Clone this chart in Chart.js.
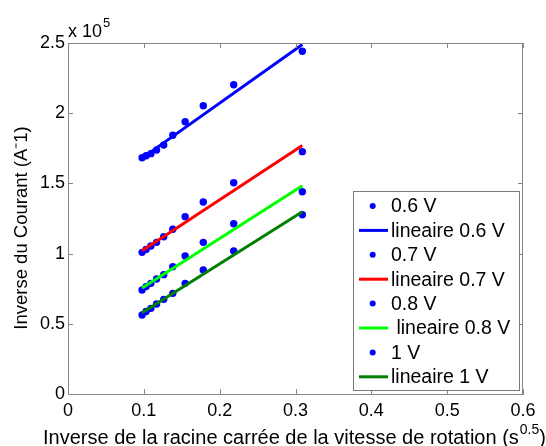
<!DOCTYPE html>
<html><head><meta charset="utf-8">
<script src="https://cdn.jsdelivr.net/npm/chart.js@4.4.1/dist/chart.umd.min.js"></script>
<style>html,body{margin:0;padding:0;background:#fff}#wrap{width:546px;height:446px}</style>
</head><body><div id="wrap"><canvas id="c" width="546" height="446"></canvas></div>
<script>
// x: inverse square root of rotation speed (s^0.5)
const xVals = [0.0977, 0.1030, 0.1093, 0.1168, 0.1262, 0.1382, 0.1545, 0.1784, 0.2185, 0.3090];
// inverse current (A^-1)
const y06 = [168300, 169700, 171200, 173800, 177400, 184300, 193900, 205300, 220300, 244100];
const y07 = [100900, 103000, 105400, 108000, 112000, 117300, 126300, 136800, 150500, 172600];
const y08 = [74100, 76500, 78800, 81900, 85000, 90700, 98300, 108000, 121300, 144100];
const y10 = [56300, 58800, 61000, 64100, 67400, 71700, 78800, 88300, 101900, 127700];
// linear fits: values at first and last x
const fitX = [0.0977, 0.3090];
const fit06 = [168000, 249000];
const fit07 = [102000, 177000];
const fit08 = [75500, 148300];
const fit10 = [57800, 129800];
const labels = ['0.6 V', 'lineaire 0.6 V', '0.7 V', 'lineaire 0.7 V', '0.8 V', ' lineaire 0.8 V', '1 V', 'lineaire 1 V'];
const xTicks = [0, 0.1, 0.2, 0.3, 0.4, 0.5, 0.6];
const yTicks = [0, 50000, 100000, 150000, 200000, 250000];

const FONT = 'Liberation Sans, Arial, sans-serif';
const AX = '#858585';
const pts = ys => xVals.map((x, i) => ({x, y: ys[i]}));
const fit = ys => fitX.map((x, i) => ({x, y: ys[i]}));
const dotDs = (label, ys) => ({label, data: pts(ys), showLine: false, pointRadius: 3.7, pointBackgroundColor: '#0000ff', pointBorderWidth: 0, kind: 'dot', color: '#0000ff', order: 1});
const lineDs = (label, ys, col) => ({label, data: fit(ys), showLine: true, borderColor: col, borderWidth: 3, pointRadius: 0, kind: 'line', color: col, order: 0});

const datasets = [
  dotDs(labels[0], y06), lineDs(labels[1], fit06, '#0000ff'),
  dotDs(labels[2], y07), lineDs(labels[3], fit07, '#ff0000'),
  dotDs(labels[4], y08), lineDs(labels[5], fit08, '#00ff00'),
  dotDs(labels[6], y10), lineDs(labels[7], fit10, '#008000')
];

const deco = {
  id: 'deco',
  afterDraw(chart) {
    const ctx = chart.ctx, a = chart.chartArea, xs = chart.scales.x, ys = chart.scales.y;
    ctx.save();
    ctx.strokeStyle = AX; ctx.lineWidth = 1;
    ctx.beginPath();
    ctx.moveTo(a.left, a.top + 0.5); ctx.lineTo(a.right, a.top + 0.5);
    ctx.moveTo(a.right - 0.5, a.top); ctx.lineTo(a.right - 0.5, a.bottom);
    const L = 5;
    xTicks.forEach(v => { const px = Math.round(xs.getPixelForValue(v)) + 0.5;
      ctx.moveTo(px, a.bottom); ctx.lineTo(px, a.bottom - L);
      ctx.moveTo(px, a.top); ctx.lineTo(px, a.top + L); });
    yTicks.forEach(v => { const py = Math.round(ys.getPixelForValue(v)) + 0.5;
      ctx.moveTo(a.left, py); ctx.lineTo(a.left + L, py);
      ctx.moveTo(a.right, py); ctx.lineTo(a.right - L, py); });
    ctx.stroke();
    // exponent label
    ctx.fillStyle = '#000'; ctx.textBaseline = 'alphabetic'; ctx.textAlign = 'left';
    ctx.font = '18px ' + FONT;
    ctx.fillText('x 10', a.left, a.top - 6);
    const w10 = ctx.measureText('x 10').width;
    ctx.font = '13px ' + FONT;
    ctx.fillText('5', a.left + w10 + 1, a.top - 16);
    // x title with superscript
    ctx.font = '20px ' + FONT;
    const t1 = 'Inverse de la racine carrée de la vitesse de rotation (s';
    const w1 = ctx.measureText(t1).width;
    ctx.font = '14px ' + FONT; const w2 = ctx.measureText('0.5').width;
    let x0 = 43; const by = 444;
    ctx.font = '20px ' + FONT; ctx.fillText(t1, x0, by);
    ctx.font = '14px ' + FONT; ctx.fillText('0.5', x0 + w1 + 1, by - 10);
    ctx.font = '20px ' + FONT; ctx.fillText(')', x0 + w1 + w2 + 1, by);
    // y title
    ctx.save();
    ctx.translate(22, 228); ctx.rotate(-Math.PI / 2);
    ctx.font = '18.5px ' + FONT; ctx.textAlign = 'center'; ctx.textBaseline = 'middle';
    ctx.fillText('Inverse du Courant (A⁻1)', 0, 0);
    ctx.restore();
    // legend
    const bx = 353.5, bt = 191.5, bw = 166, bh = 199;
    ctx.fillStyle = '#fff'; ctx.fillRect(bx, bt, bw, bh);
    ctx.strokeStyle = '#7a7a7a'; ctx.lineWidth = 1; ctx.strokeRect(bx, bt, bw, bh);
    ctx.font = '19.5px ' + FONT; ctx.textBaseline = 'middle'; ctx.textAlign = 'left';
    chart.data.datasets.forEach((d, i) => {
      const cy = 206 + i * 24.4;
      if (d.kind === 'dot') {
        ctx.fillStyle = d.color; ctx.beginPath(); ctx.arc(372.7, cy, 3, 0, Math.PI * 2); ctx.fill();
      } else {
        ctx.strokeStyle = d.color; ctx.lineWidth = 3; ctx.beginPath();
        ctx.moveTo(359, cy); ctx.lineTo(388, cy); ctx.stroke();
      }
      ctx.fillStyle = '#000'; ctx.fillText(d.label, 391, cy + 1);
    });
    ctx.restore();
  }
};

new Chart(document.getElementById('c'), {
  type: 'scatter',
  data: {datasets},
  options: {
    responsive: false, animation: false, devicePixelRatio: 1,
    layout: {padding: {top: 43, right: 23, left: 0, bottom: 0}},
    plugins: {legend: {display: false}, tooltip: {enabled: false}},
    scales: {
      x: {type: 'linear', min: 0, max: 0.6,
        afterFit: s => { s.height = 52; },
        afterBuildTicks: s => { s.ticks = xTicks.map(v => ({value: v})); },
        grid: {display: false, drawTicks: false},
        border: {display: true, color: AX, width: 1},
        ticks: {color: '#000', font: {size: 18, family: FONT}, padding: 6,
          callback: v => String(Math.round(v * 10) / 10)}},
      y: {type: 'linear', min: 0, max: 250000,
        afterFit: s => { s.width = 68; },
        afterBuildTicks: s => { s.ticks = yTicks.map(v => ({value: v})); },
        grid: {display: false, drawTicks: false},
        border: {display: true, color: AX, width: 1},
        ticks: {color: '#000', font: {size: 18, family: FONT}, padding: 3,
          callback: v => String(v / 100000)}}
    }
  },
  plugins: [deco]
});
</script></body></html>
